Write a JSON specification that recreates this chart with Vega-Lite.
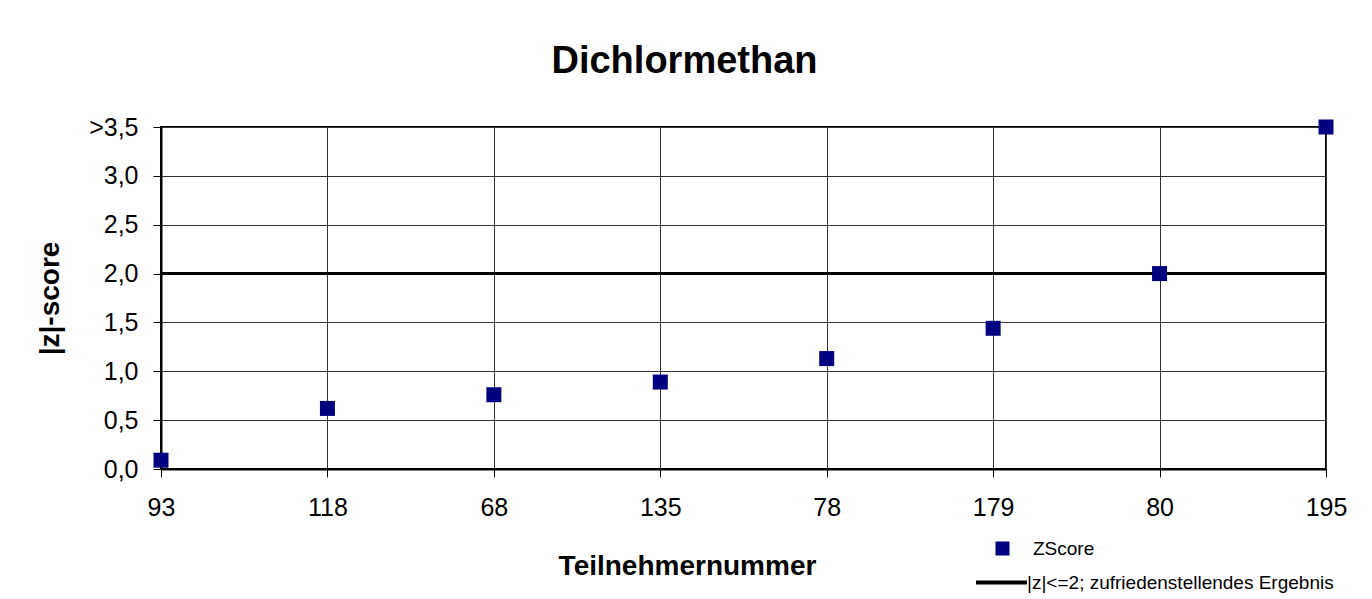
{
  "$schema": "https://vega.github.io/schema/vega-lite/v6.json",
  "width": 1165,
  "height": 342,
  "autosize": {"type": "none"},
  "padding": {"left": 161, "top": 127, "right": 46, "bottom": 130},
  "background": "white",
  "config": {
    "font": "Liberation Sans",
    "view": {"stroke": "black", "strokeWidth": 2},
    "axis": {"labelColor": "black", "titleColor": "black", "domainColor": "black", "domainWidth": 2, "tickColor": "black", "tickSize": 8, "tickWidth": 1, "gridColor": "#333333", "gridWidth": 1}
  },
  "title": {
    "text": "Dichlormethan",
    "fontSize": 38,
    "fontWeight": "bold",
    "color": "black",
    "anchor": "middle",
    "dx": -59,
    "offset": 34
  },
  "data": {
    "values": [
      {"teilnehmer": "93", "z": 0.09, "series": "ZScore"},
      {"teilnehmer": "118", "z": 0.62, "series": "ZScore"},
      {"teilnehmer": "68", "z": 0.76, "series": "ZScore"},
      {"teilnehmer": "135", "z": 0.89, "series": "ZScore"},
      {"teilnehmer": "78", "z": 1.13, "series": "ZScore"},
      {"teilnehmer": "179", "z": 1.44, "series": "ZScore"},
      {"teilnehmer": "80", "z": 2.0, "series": "ZScore"},
      {"teilnehmer": "195", "z": 3.5, "series": "ZScore"}
    ]
  },
  "encoding": {
    "x": {
      "field": "teilnehmer",
      "type": "nominal",
      "sort": null,
      "scale": {"type": "point", "padding": 0},
      "axis": {
        "title": "Teilnehmernummer",
        "titleFontSize": 28,
        "titleFontWeight": "bold",
        "titleX": 526,
        "titleY": 97,
        "titleBaseline": "middle",
        "labelFontSize": 25,
        "labelPadding": 18,
        "labelAngle": 0,
        "grid": true
      }
    },
    "y": {
      "field": "z",
      "type": "quantitative",
      "scale": {"domain": [0, 3.5], "nice": false, "zero": true},
      "axis": {
        "title": "|z|-score",
        "titleFontSize": 28,
        "titleFontWeight": "bold",
        "titleX": -111,
        "titleBaseline": "middle",
        "values": [0, 0.5, 1, 1.5, 2, 2.5, 3, 3.5],
        "labelExpr": "datum.value == 3.5 ? '>3,5' : replace(format(datum.value, '.1f'), '.', ',')",
        "labelFontSize": 25,
        "labelPadding": 15,
        "grid": true
      }
    }
  },
  "layer": [
    {
      "mark": {"type": "rule", "strokeWidth": 3, "color": "black"},
      "encoding": {
        "x": null,
        "y": {"datum": 2, "type": "quantitative"},
        "strokeDash": {
          "datum": "|z|<=2; zufriedenstellendes Ergebnis",
          "scale": {"range": [[1, 0]]},
          "legend": {
            "title": null,
            "orient": "none",
            "legendX": 813,
            "legendY": 428,
            "padding": 0,
            "labelFontSize": 19,
            "labelColor": "black",
            "labelOffset": -2,
            "symbolType": "stroke",
            "symbolSize": 2601,
            "symbolStrokeWidth": 4,
            "symbolStrokeColor": "black",
            "labelLimit": 500
          }
        }
      }
    },
    {
      "mark": {"type": "point", "shape": "square", "filled": true, "size": 225, "opacity": 1},
      "encoding": {
        "color": {
          "field": "series",
          "type": "nominal",
          "scale": {"domain": ["ZScore"], "range": ["#000080"]},
          "legend": {
            "title": null,
            "orient": "none",
            "legendX": 832,
            "legendY": 412,
            "padding": 0,
            "labelFontSize": 19,
            "labelColor": "black",
            "labelOffset": 21,
            "symbolType": "square",
            "symbolSize": 196,
            "labelLimit": 500
          }
        }
      }
    }
  ]
}
